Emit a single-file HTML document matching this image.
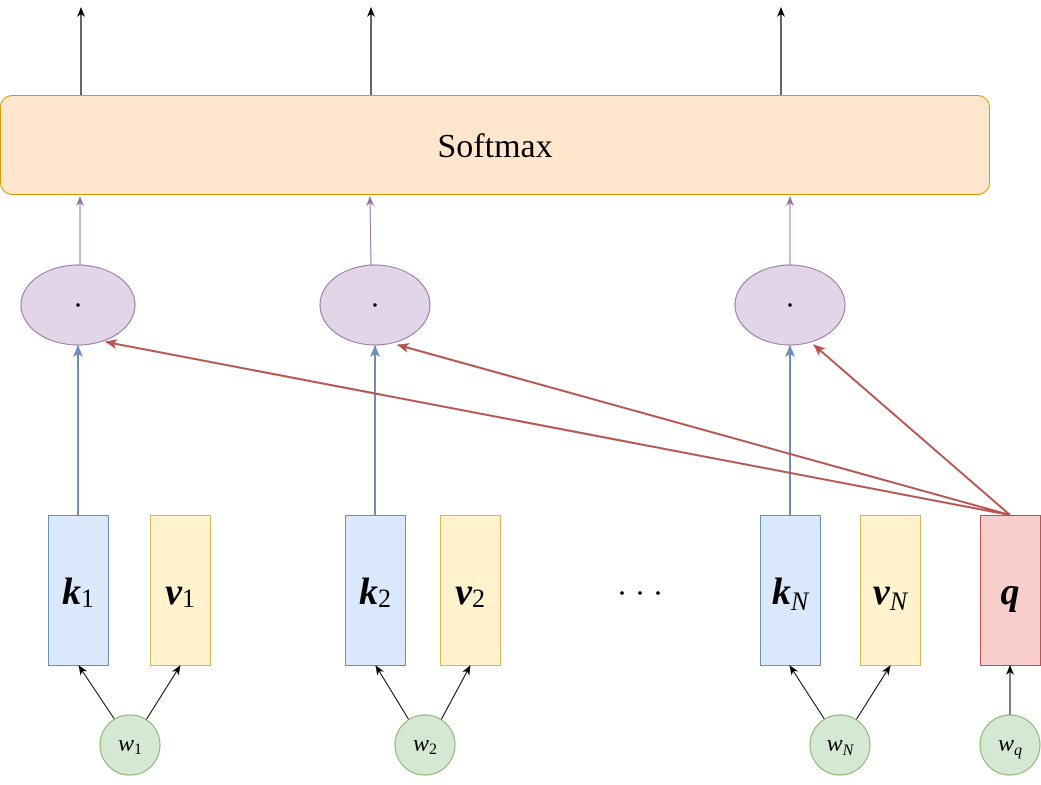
<!DOCTYPE html>
<html><head><meta charset="utf-8"><style>
html,body{margin:0;padding:0;background:#fff;width:1041px;height:785px;overflow:hidden}
text{font-family:"Liberation Serif",serif}
</style></head><body>
<svg width="1041" height="785" viewBox="0 0 1041 785">
<defs>
<marker id="ab" markerWidth="10" markerHeight="10" refX="9" refY="5" orient="auto" markerUnits="userSpaceOnUse"><path d="M0,1 L10,5 L0,9 L3,5 z" fill="#000"/></marker>
<marker id="ap" markerWidth="10" markerHeight="10" refX="9" refY="5" orient="auto" markerUnits="userSpaceOnUse"><path d="M0,1 L10,5 L0,9 L3,5 z" fill="#9673a6"/></marker>
<marker id="abl" markerWidth="12" markerHeight="12" refX="11" refY="6" orient="auto" markerUnits="userSpaceOnUse"><path d="M0,1 L12,6 L0,11 L3,6 z" fill="#6c8ebf"/></marker>
<marker id="ar" markerWidth="12" markerHeight="12" refX="11" refY="6" orient="auto" markerUnits="userSpaceOnUse"><path d="M0,1 L12,6 L0,11 L3,6 z" fill="#b85450"/></marker>
</defs>
<g stroke="#000" stroke-width="1.2">
<line x1="81" y1="96" x2="81" y2="8" marker-end="url(#ab)"/>
<line x1="371" y1="96" x2="371" y2="8" marker-end="url(#ab)"/>
<line x1="781" y1="96" x2="781" y2="8" marker-end="url(#ab)"/>
</g>
<g>
<rect x="0.5" y="95.5" width="989" height="99" rx="12" fill="#ffe6cc" stroke="#d79b00"/>
<text x="495" y="157" font-size="34" text-anchor="middle">Softmax</text>
</g>
<g stroke="#9673a6" stroke-width="1">
<line x1="80" y1="265" x2="80" y2="197" marker-end="url(#ap)"/>
<line x1="371" y1="265" x2="370" y2="197" marker-end="url(#ap)"/>
<line x1="790" y1="265" x2="790" y2="197" marker-end="url(#ap)"/>
</g>
<g fill="#e1d5e7" stroke="#9673a6">
<ellipse cx="78" cy="305" rx="57" ry="40"/>
<ellipse cx="375" cy="305" rx="55" ry="40"/>
<ellipse cx="790" cy="305" rx="55" ry="40"/>
</g>
<g fill="#000"><circle cx="78" cy="305" r="1.7"/><circle cx="375" cy="305" r="1.7"/><circle cx="790" cy="305" r="1.7"/></g>
<g stroke="#6c8ebf" stroke-width="2">
<line x1="78" y1="515" x2="78" y2="346" marker-end="url(#abl)"/>
<line x1="375" y1="515" x2="375" y2="346" marker-end="url(#abl)"/>
<line x1="790" y1="515" x2="790" y2="346" marker-end="url(#abl)"/>
</g>
<g stroke="#b85450" stroke-width="2">
<line x1="1010" y1="515" x2="106" y2="342" marker-end="url(#ar)"/>
<line x1="1010" y1="515" x2="398" y2="345" marker-end="url(#ar)"/>
<line x1="1010" y1="515" x2="814" y2="345" marker-end="url(#ar)"/>
</g>
<g stroke-width="1">
<rect x="48.5" y="515.5" width="60" height="150" fill="#dae8fc" stroke="#6c8ebf"/>
<rect x="150.5" y="515.5" width="60" height="150" fill="#fff2cc" stroke="#d6b656"/>
<rect x="345.5" y="515.5" width="60" height="150" fill="#dae8fc" stroke="#6c8ebf"/>
<rect x="440.5" y="515.5" width="60" height="150" fill="#fff2cc" stroke="#d6b656"/>
<rect x="760.5" y="515.5" width="60" height="150" fill="#dae8fc" stroke="#6c8ebf"/>
<rect x="860.5" y="515.5" width="60" height="150" fill="#fff2cc" stroke="#d6b656"/>
<rect x="980.5" y="515.5" width="60" height="150" fill="#f8cecc" stroke="#b85450"/>
</g>
<g font-size="38" font-style="italic" font-weight="bold" text-anchor="middle">
<text x="78" y="604">k<tspan font-size="26" font-weight="normal" font-style="normal" dy="3">1</tspan></text>
<text x="180" y="604">v<tspan font-size="26" font-weight="normal" font-style="normal" dy="3">1</tspan></text>
<text x="375" y="604">k<tspan font-size="26" font-weight="normal" font-style="normal" dy="3">2</tspan></text>
<text x="470" y="604">v<tspan font-size="26" font-weight="normal" font-style="normal" dy="3">2</tspan></text>
<text x="790" y="604">k<tspan font-size="26" font-weight="normal" dy="6">N</tspan></text>
<text x="890" y="604">v<tspan font-size="26" font-weight="normal" dy="6">N</tspan></text>
<text x="1010" y="604">q</text>
</g>
<g fill="#000"><circle cx="622" cy="593" r="1.8"/><circle cx="640" cy="593" r="1.8"/><circle cx="658" cy="593" r="1.8"/></g>
<g stroke="#000" stroke-width="1">
<line x1="115" y1="720" x2="79" y2="666" marker-end="url(#ab)"/>
<line x1="146" y1="720" x2="180" y2="666" marker-end="url(#ab)"/>
<line x1="409" y1="720" x2="376" y2="666" marker-end="url(#ab)"/>
<line x1="441" y1="720" x2="470" y2="666" marker-end="url(#ab)"/>
<line x1="825" y1="720" x2="790" y2="666" marker-end="url(#ab)"/>
<line x1="856" y1="720" x2="890" y2="666" marker-end="url(#ab)"/>
<line x1="1010" y1="715" x2="1010" y2="666" marker-end="url(#ab)" stroke="#555" stroke-width="1.5"/>
</g>
<g fill="#d5e8d4" stroke="#82b366">
<circle cx="130" cy="745" r="30"/><circle cx="425" cy="745" r="30"/><circle cx="840" cy="745" r="30"/><circle cx="1010" cy="745" r="30"/>
</g>
<g font-size="24" font-style="italic" text-anchor="middle">
<text x="130" y="751">w<tspan font-size="16" font-style="normal" dy="3">1</tspan></text>
<text x="425" y="751">w<tspan font-size="16" font-style="normal" dy="3">2</tspan></text>
<text x="840" y="751">w<tspan font-size="16" dy="4">N</tspan></text>
<text x="1010" y="751">w<tspan font-size="16" dy="4">q</tspan></text>
</g>
</svg>
</body></html>
